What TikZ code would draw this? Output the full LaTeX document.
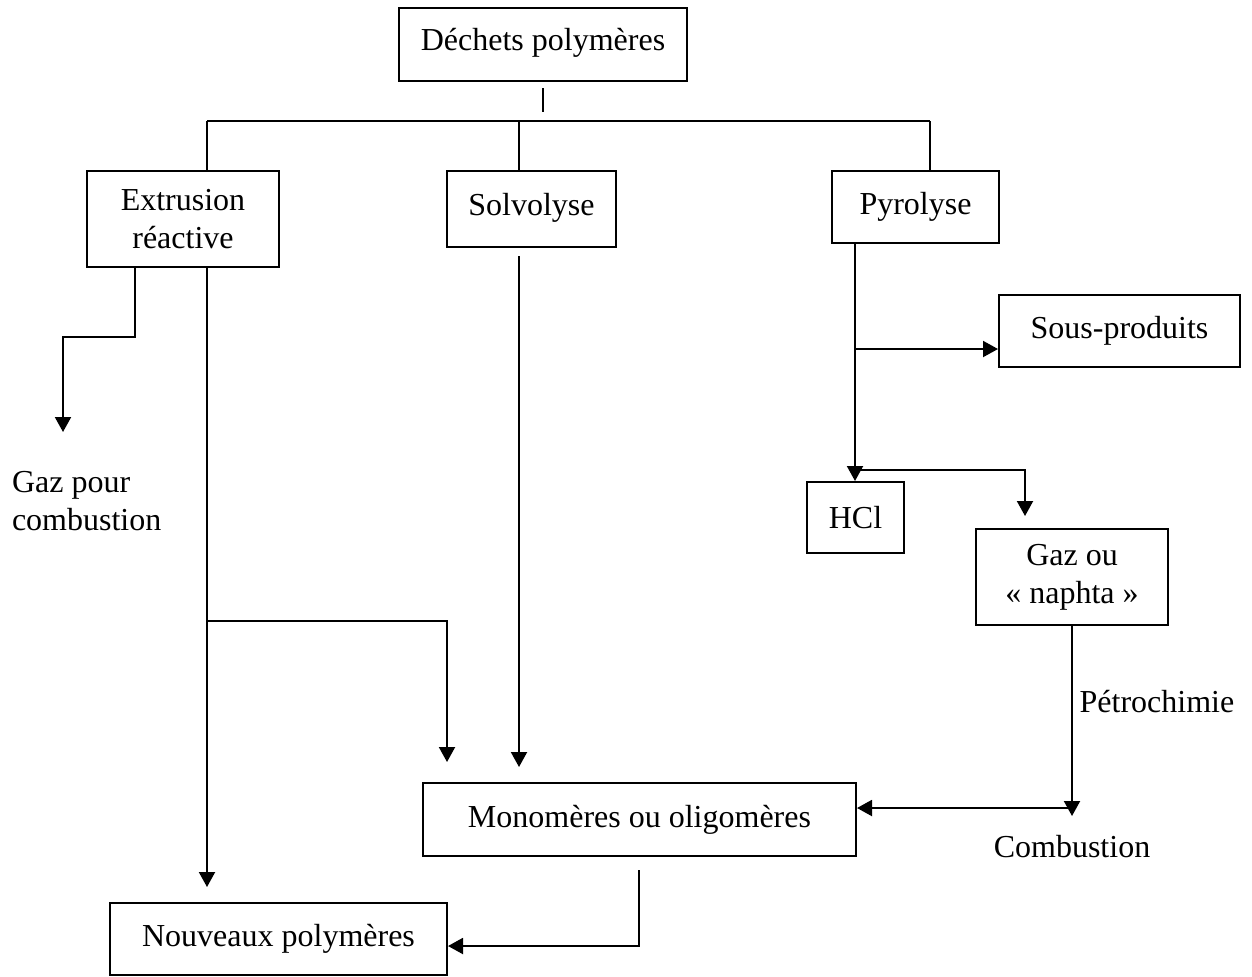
\documentclass[tikz,border=0pt]{standalone}
\usepackage{fontspec}
\setmainfont{Liberation Serif}
\usepackage{tikz}
\usetikzlibrary{arrows.meta, calc}
\tikzstyle{boite} = [
    rectangle,
    draw = black,
    line width = 1pt,
    align = center,
]
\tikzstyle{fleche} = [
    line width = 1pt,
    -{Triangle[width = 8pt, length = 7.5pt]},
]

\begin{document}
\begin{tikzpicture} [x = 0.5pt, y = -0.5pt, font = \fontsize{16}{19}\selectfont, line width = 1pt]
    \useasboundingbox (0, 0) rectangle (1252, 976);

    \node (dechets) [boite, minimum width = 144pt, minimum height = 36.5pt, text depth = 5pt] at (543, 44.5) {Déchets polymères};

    \node (extrusion) [boite, minimum width = 96pt, minimum height = 48pt] at (183, 219) {Extrusion\\réactive};
    \node (solvolyse) [boite, minimum width = 84.5pt, minimum height = 38pt, text depth = 5pt] at (531.5, 209) {Solvolyse};
    \node (pyrolyse) [boite, minimum width = 83.5pt, minimum height = 36pt] at (915.5, 207) {Pyrolyse};

    \node (sousproduits) [boite, minimum width = 120.5pt, minimum height = 36pt] at (1119.5, 331) {Sous-produits};
    \node (hcl) [boite, minimum width = 48.5pt, minimum height = 35.5pt] at (855.5, 517.5) {HCl};
    \node (gaz) [boite, minimum width = 96pt, minimum height = 48pt] at (1072, 577) {Gaz ou\\« naphta »};

    \node (mono) [boite, minimum width = 216.5pt, minimum height = 36.5pt] at (639.5, 819.5) {Monomères ou oligomères};
    \node (nouveaux) [boite, minimum width = 168.5pt, minimum height = 36pt] at (278.5, 939) {Nouveaux polymères};

    \node (gazcomb) [anchor = west, align = left, inner sep = 0pt] at (11, 501) {Gaz pour\\combustion};
    \node (combustion) at (1072, 847) {Combustion};

    % bus sous les dechets
    \coordinate (busG) at (207, 121);
    \coordinate (busM) at (519, 121);
    \coordinate (busD) at (930, 121);
    \draw (dechets.south) ++(0, 6) -- ++(0, 24);
    \draw (busG) -- (busD);
    \draw (busG) -- (busG |- extrusion.north);
    \draw (busM) -- (busM |- solvolyse.north);
    \draw (busD) -- (busD |- pyrolyse.north);

    % extrusion
    \coordinate (coude) at (135, 337);
    \coordinate (gazfleche) at (63, 432);
    \draw[fleche] (coude |- extrusion.south) -- (coude) -- (gazfleche |- coude) -- (gazfleche);
    \draw[fleche, shorten >= 7.5pt] (busG |- extrusion.south) -- (busG |- nouveaux.north);
    \coordinate (embranchement) at (207, 621);
    \coordinate (versmono) at (447, 621);
    \draw[fleche, shorten >= 10pt] (embranchement) -- (versmono) -- (versmono |- mono.north);

    % solvolyse
    \draw[fleche, shorten <= 4pt, shorten >= 7.5pt] (busM |- solvolyse.south) -- (busM |- mono.north);

    % monomeres -> nouveaux polymeres
    \coordinate (retour) at (639, 946);
    \draw[fleche, shorten <= 6.5pt] (retour |- mono.south) -- (retour) -- (nouveaux.east |- retour);

    % pyrolyse
    \coordinate (p1) at (855, 349);
    \coordinate (p2) at (855, 470);
    \coordinate (p3) at (1025, 470);
    \draw[fleche] (p1 |- pyrolyse.south) -- (p1 |- hcl.north);
    \draw[fleche] (p1) -- (sousproduits.west |- p1);
    \draw[fleche, shorten >= 6pt] (p2) -- (p3) -- (p3 |- gaz.north);

    \coordinate (c1) at (1072, 808);
    \coordinate (combfleche) at (1072, 816);
    \draw[fleche] (gaz.south) -- (combfleche) node (petro) [pos = 0.4, right] {Pétrochimie};
    \draw[fleche] (c1) -- (mono.east |- c1);
\end{tikzpicture}
\end{document}
